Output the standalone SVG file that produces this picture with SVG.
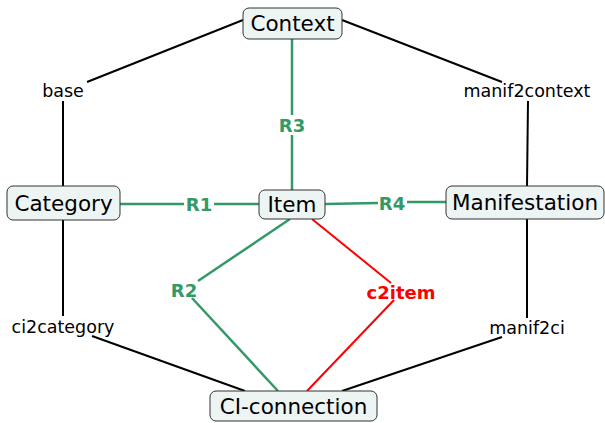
<svg xmlns="http://www.w3.org/2000/svg" width="605" height="423" viewBox="0 0 605 423">
<style>
.node rect{fill:#edf4f4;stroke:#333;stroke-width:1}
.node text{font-family:"DejaVu Sans",sans-serif;font-size:21.5px;fill:#000;text-anchor:middle;dominant-baseline:central}
.k{stroke:#000;stroke-width:2;fill:none}
.g{stroke:#339966;stroke-width:2.5;fill:none}
.r{stroke:#ff0000;stroke-width:2;fill:none}
.lbl{font-family:"DejaVu Sans",sans-serif;font-size:17.5px;fill:#000;text-anchor:middle;dominant-baseline:central}
.gl{font-family:"DejaVu Sans",sans-serif;font-size:18px;font-weight:bold;fill:#339966;text-anchor:middle;dominant-baseline:central}
.rl{font-family:"DejaVu Sans",sans-serif;font-size:18px;font-weight:bold;fill:#ff0000;text-anchor:middle;dominant-baseline:central}
</style>
<g id="connectors">
<path class="k" d="M243,20 L87,82"/>
<path class="k" d="M63,101 L63,186"/>
<path class="k" d="M342,20 L502,82"/>
<path class="k" d="M528,101 L527,186"/>
<path class="g" d="M292,39 L292,115"/>
<path class="g" d="M292,135 L292,190"/>
<path class="g" d="M120,204 L184,204"/>
<path class="g" d="M214,204 L259,204"/>
<path class="g" d="M325,204 L378,203"/>
<path class="g" d="M407,202 L446,202"/>
<path class="g" d="M290,219 L198,281"/>
<path class="g" d="M192,298 L278,391"/>
<path class="r" d="M312,219 L391,283"/>
<path class="r" d="M394,300 L307,391"/>
<path class="k" d="M63,220 L63,316"/>
<path class="k" d="M92,336 L245,391"/>
<path class="k" d="M527,219 L527,318"/>
<path class="k" d="M502,337 L342,391"/>
</g>
<g id="labels">
<text class="lbl" x="63" y="91">base</text>
<text class="lbl" x="527" y="91">manif2context</text>
<text class="lbl" x="63" y="327">ci2category</text>
<text class="lbl" x="527" y="328">manif2ci</text>
<text class="gl" x="292" y="125">R3</text>
<text class="gl" x="199" y="204">R1</text>
<text class="gl" x="392" y="203">R4</text>
<text class="gl" x="184" y="290">R2</text>
<text class="rl" x="401" y="292">c2item</text>
</g>
<g id="context" class="node"><rect x="243" y="8" width="99" height="31" rx="6"/><text x="292.5" y="23.5">Context</text></g>
<g id="category" class="node"><rect x="7" y="186" width="113" height="34" rx="6"/><text x="63.5" y="203">Category</text></g>
<g id="item" class="node"><rect x="259" y="190" width="66" height="29" rx="6"/><text x="292" y="204.5">Item</text></g>
<g id="manifestation" class="node"><rect x="446" y="186" width="158" height="33" rx="6"/><text x="525" y="202.5">Manifestation</text></g>
<g id="ci-connection" class="node"><rect x="210" y="391" width="167" height="30" rx="6"/><text x="293.5" y="406">CI-connection</text></g>
</svg>
